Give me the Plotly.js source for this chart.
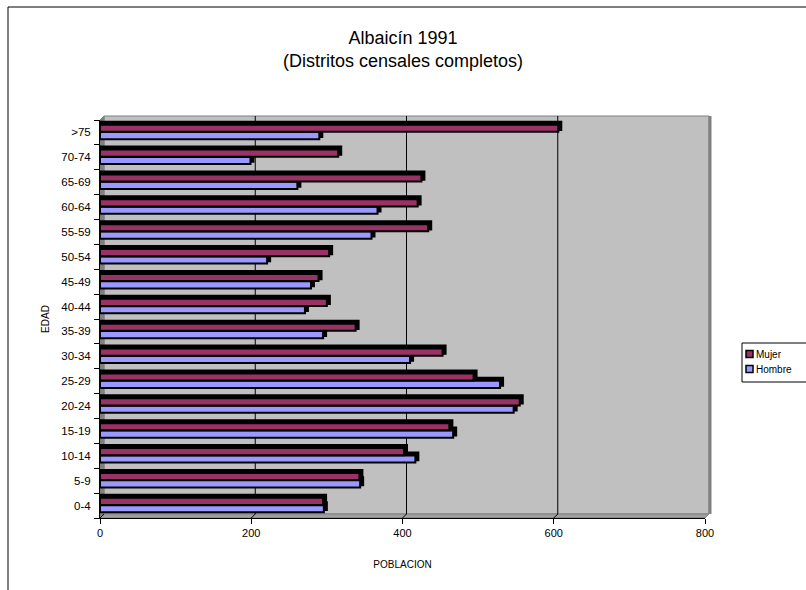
<!DOCTYPE html>
<html>
<head>
<meta charset="utf-8">
<script src="https://cdn.plot.ly/plotly-3.0.1.min.js"></script>
<style>html,body{margin:0;padding:0;background:#fff;}#chart{width:806px;height:590px;}</style>
</head>
<body>
<div id="chart"></div>
<script>
// ---- data ----
const ageGroups = ['0-4','5-9','10-14','15-19','20-24','25-29','30-34','35-39','40-44','45-49','50-54','55-59','60-64','65-69','70-74','>75'];
const mujer  = [295, 343, 402, 462, 555, 494, 453, 338, 300, 289, 303, 434, 420, 425, 315, 606];
const hombre = [296, 344, 417, 467, 547, 529, 410, 295, 271, 279, 221, 359, 367, 261, 199, 290];
const xTicks = [0, 200, 400, 600, 800];
const seriesNames = ['Mujer', 'Hombre'];

// ---- layout geometry (pixels) ----
const W = 806, H = 590;
const M = {l: 100, r: 101, t: 120, b: 72};
const PW = W - M.l - M.r, PH = H - M.t - M.b;
const px = v => (v - M.l) / PW;          // pixel x -> paper
const py = v => (H - M.b - v) / PH;      // pixel y -> paper
const DEPTH = 4;                          // wall depth in px
const BD = 4;                             // bar depth in px
const U = PH / ageGroups.length;          // px per category
const band = (top, bottom) => ({offset: -bottom / U, width: (bottom - top) / U});

const colM = '#993366', colH = '#9999FF';
const depthUnits = BD / PW * 800;

const faceM = band(-7.8, -0.6), faceH = band(-0.4, 6.8);
const shadM = band(-7.8 - BD, -1.5), shadH = band(-0.4 - BD, 5.5);

const traces = [
  {type:'bar', orientation:'h', y: ageGroups, x: hombre.map(v => v + depthUnits),
   offset:shadH.offset, width:shadH.width, marker:{color:'#000'}, showlegend:false, hoverinfo:'skip'},
  {type:'bar', orientation:'h', y: ageGroups, x: mujer.map(v => v + depthUnits),
   offset:shadM.offset, width:shadM.width, marker:{color:'#000'}, showlegend:false, hoverinfo:'skip'},
  {type:'bar', orientation:'h', name: seriesNames[1], y: ageGroups, x: hombre,
   offset:faceH.offset, width:faceH.width, marker:{color:colH, line:{color:'#000', width:2}}, showlegend:false},
  {type:'bar', orientation:'h', name: seriesNames[0], y: ageGroups, x: mujer,
   offset:faceM.offset, width:faceM.width, marker:{color:colM, line:{color:'#000', width:2}}, showlegend:false}
];

const shapes = [];
shapes.push({type:'rect', xref:'paper', yref:'paper', x0:px(8), x1:px(830), y0:py(620), y1:py(7),
  line:{color:'#000', width:1}, fillcolor:'rgba(0,0,0,0)', layer:'below'});
shapes.push({type:'rect', xref:'paper', yref:'paper', x0:px(100+DEPTH), x1:px(W-M.r+DEPTH), y0:py(H-M.b-DEPTH), y1:py(M.t-DEPTH),
  line:{color:'#808080', width:1}, fillcolor:'#C0C0C0', layer:'below'});
shapes.push({type:'line', xref:'paper', yref:'paper', x0:px(W-M.r+DEPTH+1), x1:px(W-M.r+DEPTH+1), y0:py(H-M.b-DEPTH), y1:py(M.t-DEPTH),
  line:{color:'#808080', width:3}, layer:'below'});
shapes.push({type:'path', xref:'paper', yref:'paper',
  path:`M${px(100)},${py(H-M.b)} L${px(100)},${py(M.t)} L${px(100+DEPTH)},${py(M.t-DEPTH)} L${px(100+DEPTH)},${py(H-M.b-DEPTH)} Z`,
  line:{color:'#808080', width:1}, fillcolor:'#808080', layer:'below'});
shapes.push({type:'path', xref:'paper', yref:'paper',
  path:`M${px(100)},${py(H-M.b)} L${px(W-M.r)},${py(H-M.b)} L${px(W-M.r+DEPTH)},${py(H-M.b-DEPTH)} L${px(100+DEPTH)},${py(H-M.b-DEPTH)} Z`,
  line:{color:'#808080', width:1}, fillcolor:'#A0A0A0', layer:'below'});
xTicks.forEach(v => {
  if (v > 0 && v < 800) {
    shapes.push({type:'line', xref:'x', yref:'paper', xsizemode:'pixel', xanchor:v, x0:DEPTH, x1:DEPTH,
      y0:py(H-M.b-DEPTH), y1:py(M.t-DEPTH), line:{color:'#000', width:1}, layer:'below'});
  }
  shapes.push({type:'line', xref:'x', yref:'paper', xsizemode:'pixel', xanchor:v, x0:0, x1:DEPTH,
    y0:py(H-M.b), y1:py(H-M.b-DEPTH), line:{color:'#000', width:1}, layer:'below'});
});

// manual legend
const LG = {x0:742, y0:343, x1:830, y1:382};
shapes.push({type:'rect', xref:'paper', yref:'paper', x0:px(LG.x0), x1:px(LG.x1), y0:py(LG.y1), y1:py(LG.y0),
  line:{color:'#000', width:1}, fillcolor:'#fff', layer:'above'});
const legendCols = [colM, colH];
const legendY = [354, 369];
const annotations = [];
seriesNames.forEach((n, i) => {
  const cy = legendY[i];
  shapes.push({type:'rect', xref:'paper', yref:'paper', x0:px(746), x1:px(753), y0:py(cy+3.5), y1:py(cy-3.5),
    line:{color:'#000', width:1.5}, fillcolor:legendCols[i], layer:'above'});
  annotations.push({xref:'paper', yref:'paper', x:px(754), y:py(cy), xanchor:'left', yanchor:'middle',
    text:n, showarrow:false, font:{family:'Liberation Sans, Arial, sans-serif', size:10, color:'#000'}});
});

const layout = {
  width: W, height: H,
  margin: {l:M.l, r:M.r, t:M.t, b:M.b, autoexpand:false},
  paper_bgcolor:'#fff', plot_bgcolor:'rgba(0,0,0,0)',
  font:{family:'Liberation Sans, Arial, sans-serif', size:11, color:'#000'},
  title:{text:'Albaicín 1991<br>(Distritos censales completos)', xref:'container', x:0.5, xanchor:'center',
    yref:'container', y:1-44/H, yanchor:'middle', font:{size:18, color:'#000'}},
  barmode:'overlay',
  showlegend:false,
  xaxis:{range:[0,800], tickvals:xTicks, ticktext:xTicks.map(String), showgrid:false, zeroline:false,
    showline:true, linecolor:'#000', linewidth:1, ticks:'outside', ticklen:5, tickcolor:'#000',
    tickfont:{size:11}, title:{text:'POBLACION', font:{size:10}, standoff:22}},
  yaxis:{type:'category', categoryorder:'array', categoryarray:ageGroups, range:[-0.5,15.5],
    showgrid:false, zeroline:false, showline:true, linecolor:'#000', linewidth:1,
    ticks:'outside', ticklen:5, tickcolor:'#000', tickson:'boundaries', tickfont:{size:11.5},
    ticklabelstandoff:6,
    title:{text:'EDAD', font:{size:10}, standoff:9}},
  shapes: shapes,
  annotations: annotations
};

Plotly.newPlot('chart', traces, layout, {staticPlot:true});
</script>
</body>
</html>
